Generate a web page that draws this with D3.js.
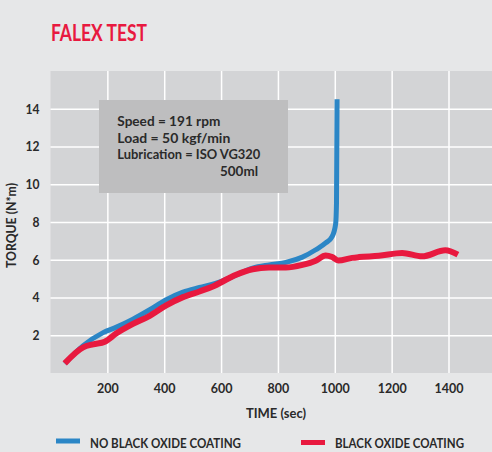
<!DOCTYPE html>
<html>
<head>
<meta charset="utf-8">
<script src="https://cdn.jsdelivr.net/npm/d3@7"></script>
<style>
  html, body { margin: 0; padding: 0; background: #e6e7e8; }
  svg { display: block; }
  text { font-family: Lato, "Open Sans", "Liberation Sans", sans-serif; }
</style>
</head>
<body>
<svg id="chart" width="492" height="452"></svg>
<script>
// ---- data ----
const noCoatingTime   = [50, 115, 185, 232, 290, 349, 407, 466, 524, 583, 640, 711, 769, 828, 886, 933, 968, 991, 1003, 1006, 1008];
const noCoatingTorque = [0.5, 1.45, 2.14, 2.43, 2.85, 3.35, 3.88, 4.28, 4.53, 4.76, 5.1, 5.56, 5.73, 5.86, 6.14, 6.53, 6.89, 7.24, 7.9, 9.0, 14.5];
const coatingTime     = [50, 115, 150, 191, 232, 290, 349, 407, 466, 524, 571, 629, 653, 711, 769, 828, 886, 933, 968, 991, 1012, 1061, 1085, 1155, 1237, 1307, 1389, 1433];
const coatingTorque   = [0.51, 1.36, 1.52, 1.66, 2.1, 2.6, 3.03, 3.58, 4.02, 4.32, 4.58, 5.03, 5.2, 5.5, 5.59, 5.59, 5.73, 5.95, 6.23, 6.14, 5.96, 6.1, 6.14, 6.21, 6.36, 6.18, 6.5, 6.27];
const xTicks = [200, 400, 600, 800, 1000, 1200, 1400];
const yTicks = [2, 4, 6, 8, 10, 12, 14];
const seriesNames = ["NO BLACK OXIDE COATING", "BLACK OXIDE COATING"];
const infoLines = ["Speed = 191 rpm", "Load = 50 kgf/min", "Lubrication = ISO VG320", "500ml"];

const blue = "#2b86c6", red = "#e8193f", ink = "#2a2a2a";

const svg = d3.select("#chart");
const L = 50.5, R = 492, T = 71, B = 373;
const x = d3.scaleLinear().domain([0, 1553]).range([L, R]);
const y = d3.scaleLinear().domain([0, 16]).range([B, T]);

function fit(sel, w) { return sel.attr("textLength", w).attr("lengthAdjust", "spacingAndGlyphs"); }

// title
fit(svg.append("text").attr("x", 51).attr("y", 41).attr("fill", red)
  .attr("font-size", 22).attr("font-weight", "bold").text("FALEX TEST"), 96);

// plot bg
svg.append("rect").attr("x", L).attr("y", T).attr("width", R - L).attr("height", B - T).attr("fill", "#d3d4d6");

// grid
svg.append("g").attr("transform", `translate(0,${B})`)
  .call(d3.axisBottom(x).tickValues(xTicks).tickSize(-(B - T)).tickFormat(""))
  .call(g => g.select(".domain").remove())
  .call(g => g.selectAll("line").attr("stroke", "#ffffff").attr("stroke-width", 1.5));
svg.append("g").attr("transform", `translate(${L},0)`)
  .call(d3.axisLeft(y).tickValues(yTicks).tickSize(-(R - L)).tickFormat(""))
  .call(g => g.select(".domain").remove())
  .call(g => g.selectAll("line").attr("stroke", "#ffffff").attr("stroke-width", 1.5));

// tick labels
svg.append("g").attr("transform", `translate(0,${B})`)
  .call(d3.axisBottom(x).tickValues(xTicks).tickSize(0).tickPadding(10).tickFormat(d3.format("d")))
  .call(g => g.select(".domain").remove())
  .call(g => g.selectAll("text").attr("font-size", 14).attr("font-weight", "bold").attr("fill", ink)
     .attr("font-family", "Lato, sans-serif")
     .each(function(d) { fit(d3.select(this), 7.25 * String(d).length); }));
svg.append("g").attr("transform", `translate(${L},0)`)
  .call(d3.axisLeft(y).tickValues(yTicks).tickSize(0).tickPadding(11))
  .call(g => g.select(".domain").remove())
  .call(g => g.selectAll("text").attr("font-size", 13.5).attr("font-weight", "bold").attr("fill", ink)
     .attr("font-family", "Lato, sans-serif")
     .each(function(d) { fit(d3.select(this), 7 * String(d).length); }));

// axis titles
fit(svg.append("text").attr("x", 246).attr("y", 418)
  .attr("font-size", 13.5).attr("font-weight", "bold").attr("fill", ink).text("TIME (sec)"), 60);
fit(svg.append("text").attr("transform", "translate(16,268) rotate(-90)")
  .attr("font-size", 12.5).attr("font-weight", "bold").attr("fill", ink).text("TORQUE (N*m)"), 85);

// info box
svg.append("rect").attr("x", 99).attr("y", 100).attr("width", 189).attr("height", 93).attr("fill", "#bebebf");
const info = svg.append("g").attr("font-size", 13.5).attr("font-weight", "bold").attr("fill", ink);
const infoW = [103, 113, 143];
[126, 142.7, 159.3].forEach((yy, i) => fit(info.append("text").attr("x", 117.3).attr("y", yy).text(infoLines[i]), infoW[i]));
fit(info.append("text").attr("x", 220).attr("y", 175.5).text(infoLines[3]), 38);

// lines
const line = d3.line().x(d => x(d[0])).y(d => y(d[1])).curve(d3.curveMonotoneX);
const blueData = noCoatingTime.map((t, i) => [t, noCoatingTorque[i]]);
const redData = coatingTime.map((t, i) => [t, coatingTorque[i]]);
svg.append("path").datum(blueData).attr("d", line).attr("fill", "none").attr("stroke", blue).attr("stroke-width", 5);
svg.append("path").datum(redData).attr("d", line).attr("fill", "none").attr("stroke", red).attr("stroke-width", 6);

// legend
const leg = [{x: 56, c: blue, tx: 90, yy: 441, w: 151}, {x: 301, c: red, tx: 335, yy: 442.5, w: 129}];
leg.forEach((l, i) => {
  svg.append("line").attr("x1", l.x).attr("x2", l.x + 24).attr("y1", l.yy).attr("y2", l.yy)
    .attr("stroke", l.c).attr("stroke-width", 5);
  fit(svg.append("text").attr("x", l.tx).attr("y", 447.5).attr("font-size", 14).attr("font-weight", "bold")
    .attr("fill", ink).text(seriesNames[i]), l.w);
});
</script>
</body>
</html>
